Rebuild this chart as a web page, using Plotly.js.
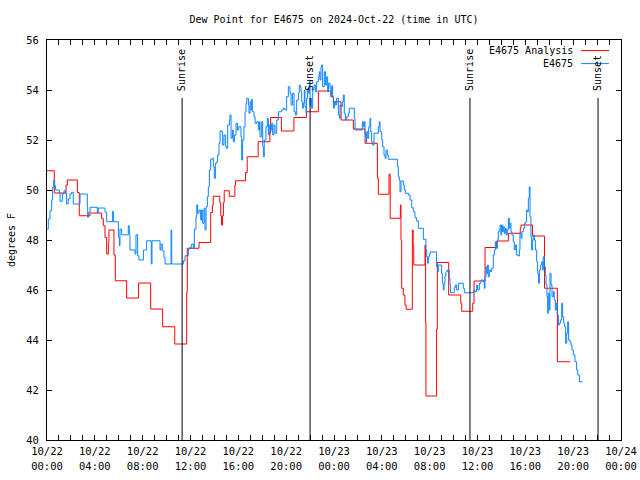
<!DOCTYPE html>
<html>
<head>
<meta charset="utf-8">
<script src="https://cdn.plot.ly/plotly-3.0.1.min.js"></script>
<style>html,body{margin:0;padding:0;background:#fff;}#chart{width:640px;height:480px;}</style>
</head>
<body>
<div id="chart"></div>
<script>
// Hours since 2024-10-22 00:00 UTC
const obsHours = [0.0,0.11,0.25,0.39,0.47,0.56,0.64,0.72,1.03,1.09,1.28,1.42,1.53,1.64,1.78,1.92,2.06,2.20,2.76,3.37,3.40,3.46,3.6,4.21,4.29,4.85,4.99,5.49,5.55,5.97,6.05,6.1,6.24,6.8,6.88,6.94,7.36,7.44,7.58,7.69,8.06,8.33,8.72,8.78,9.45,9.53,9.64,9.78,9.87,10.37,10.43,11.4,11.54,11.82,11.96,12.1,12.24,12.32,12.46,12.52,12.6,12.71,12.85,12.93,13.02,13.13,13.21,13.3,13.41,13.49,13.58,13.69,13.83,13.91,13.99,14.08,14.19,14.27,14.38,14.47,14.61,14.69,14.8,14.94,15.02,15.11,15.25,15.3,15.39,15.5,15.58,15.67,15.81,15.92,16.03,16.22,16.28,16.36,16.47,16.56,16.64,16.7,16.84,16.89,16.98,17.06,17.12,17.17,17.31,17.4,17.53,17.67,17.76,17.81,17.95,18.04,18.09,18.17,18.31,18.43,18.51,18.59,18.7,18.79,18.87,18.98,19.07,19.21,19.35,19.62,19.76,19.9,20.04,20.18,20.32,20.41,20.54,20.66,20.79,20.88,21.02,21.1,
21.16,21.24,21.3,21.38,21.44,21.52,21.57,21.66,21.71,21.8,21.88,21.94,22.0,22.08,22.13,22.22,22.33,22.44,22.55,22.69,22.77,22.83,22.91,22.97,23.05,23.19,23.3,23.39,23.47,23.55,23.67,23.75,23.81,23.89,23.95,24.03,24.11,24.22,24.36,24.45,24.5,24.61,24.7,24.78,24.86,24.95,25.06,25.2,25.28,25.7,25.76,26.37,26.45,26.54,26.59,26.68,26.73,26.82,26.9,27.01,27.07,27.15,27.23,27.35,27.71,27.79,27.85,27.99,28.07,28.18,28.27,28.35,28.46,28.54,29.3,29.38,29.46,29.52,29.6,29.8,29.88,29.97,30.22,30.36,30.5,30.63,30.77,30.91,31.05,
31.47,31.69,31.75,31.83,31.89,31.97,32.03,32.58,32.67,32.72,33.0,33.06,33.14,33.2,33.28,33.36,33.48,33.64,33.7,33.75,34.06,34.17,34.26,34.4,34.81,34.9,35.71,35.79,35.93,36.01,36.15,36.29,36.49,36.57,36.63,36.71,36.77,36.85,36.9,36.99,37.1,37.18,37.32,37.41,37.49,37.55,37.66,37.74,37.82,37.88,37.96,38.02,38.1,38.16,38.24,38.33,38.41,38.49,38.58,38.66,38.72,38.8,38.88,38.99,39.08,39.16,39.27,39.41,39.5,39.55,39.64,39.72,39.83,39.94,40.03,40.11,40.19,40.25,40.33,40.39,40.47,40.53,40.61,40.67,40.75,40.84,40.95,41.03,41.11,41.17,41.28,41.37,41.45,41.5,41.59,41.67,41.73,41.81,41.87,41.92,42.01,42.06,42.15,42.23,42.34,42.42,42.51,42.59,42.67,42.76,42.84,42.93,43.04,43.12,43.21,43.29,43.37,43.46,43.54,43.62,43.73,43.82,43.9,44.01,44.15,44.29,44.38,44.52,44.79];
const obsDew = [48.44,48.84,49.17,49.6,50.11,50.4,50.17,50.0,49.88,49.55,49.84,49.97,49.87,49.44,49.64,49.84,49.91,49.44,49.84,49.33,48.91,49.11,49.31,49.08,49.28,49.11,48.73,49.15,48.73,48.11,47.77,48.44,48.21,48.57,48.21,47.6,47.44,48.21,47.37,47.2,47.6,47.97,47.04,47.97,47.6,47.84,47.57,47.31,47.04,48.4,47.04,47.17,47.37,47.64,47.71,47.84,47.67,48.43,48.93,49.4,49.07,49.2,48.8,49.2,48.67,49.27,48.4,49.33,49.73,50.13,50.8,51.23,51.27,50.93,50.47,51.07,51.13,51.4,51.87,52.37,52.33,51.8,52.2,51.73,51.67,52.6,52.8,53.0,52.07,52.4,51.93,52.2,52.67,52.4,52.53,52.13,51.2,52.0,52.53,53.13,53.47,53.67,53.4,53.07,53.53,53.2,53.63,53.13,52.93,52.67,52.73,52.4,52.73,52.13,52.73,51.73,51.33,52.0,52.53,52.87,52.2,52.6,52.4,52.67,52.2,52.6,52.27,52.8,53.13,53.2,53.27,53.2,53.73,54.13,53.87,53.4,53.87,53.13,53.0,53.6,53.87,54.2,
54.13,53.93,53.53,53.27,53.47,54.0,53.33,53.07,53.67,54.07,53.87,54.4,53.4,53.67,53.27,54.0,54.2,53.93,54.33,54.53,54.73,54.4,54.93,55.0,54.13,54.73,54.2,54.53,53.93,54.27,54.07,53.73,54.17,53.73,53.27,53.53,53.4,53.67,53.0,52.87,53.4,53.33,53.53,53.8,53.07,52.8,52.93,53.07,53.27,52.87,52.4,52.73,52.53,52.73,52.2,51.91,52.33,52.07,52.53,52.87,52.33,51.93,51.8,52.27,52.53,52.73,52.33,52.0,51.73,51.4,51.27,51.6,51.4,51.23,50.93,50.53,50.4,49.93,50.36,50.2,50.0,49.87,49.8,49.6,49.29,49.13,48.89,48.76,48.47,
48.03,47.6,47.33,47.07,47.33,47.4,47.52,46.93,46.73,47.0,46.67,46.27,46.0,46.27,46.56,46.73,46.8,46.47,46.2,45.89,46.11,46.2,46.0,46.27,46.07,45.89,46.0,45.93,46.2,46.0,46.27,46.4,46.33,46.07,46.53,46.93,46.67,47.0,46.53,46.8,46.73,46.87,47.4,47.6,47.93,47.67,48.0,48.33,48.4,48.6,48.2,48.6,48.33,48.53,48.27,48.47,48.2,48.4,48.87,48.47,48.67,48.33,48.2,47.93,47.6,47.8,47.4,47.36,47.6,48.27,48.07,48.33,48.47,48.67,48.73,49.2,49.13,49.67,50.13,48.93,48.13,47.6,48.0,48.2,48.0,47.6,47.13,46.67,46.27,46.8,47.0,47.13,46.8,47.33,46.93,46.6,46.2,45.73,45.07,45.87,45.2,46.67,46.2,45.73,45.93,45.6,45.2,45.47,45.0,44.6,44.67,44.8,45.47,44.93,44.67,44.53,43.87,44.27,44.73,44.0,43.93,43.8,43.6,43.4,43.13,42.8,42.6,42.33,42.33];

const anaHours = [0.0,0.61,1.59,1.70,2.54,2.70,3.60,4.57,4.71,4.85,4.99,5.13,5.18,5.60,5.71,6.66,7.66,8.67,9.67,10.68,11.68,11.73,12.71,13.69,13.83,13.9,14.45,14.53,14.6,14.68,14.75,14.82,15.24,15.71,15.76,16.6,16.74,17.66,18.64,18.7,19.6,20.65,21.7,22.69,23.75,23.95,24.59,25.62,26.6,27.63,27.71,28.6,28.7,29.55,29.6,29.66,29.8,29.93,30.03,30.55,30.62,30.67,31.61,31.66,31.69,32.58,32.64,33.59,34.6,34.68,35.6,35.71,36.63,37.61,38.58,39.58,39.64,40.6,41.6,42.68,43.74];
const anaDew = [50.77,49.88,50.2,50.4,49.9,48.97,49.08,48.85,48.57,48.1,47.44,47.9,48.4,47.4,46.37,45.68,46.28,45.24,44.53,43.84,45.9,47.67,47.9,49.1,49.4,49.75,49.5,48.97,48.6,48.97,49.5,49.97,49.75,50.2,50.37,50.7,51.33,51.93,52.27,52.9,52.36,52.9,53.13,53.96,53.73,53.53,52.8,52.44,51.87,50.47,49.83,50.63,48.87,49.4,48.0,46.07,45.8,45.4,45.23,48.4,47.8,47.0,47.8,44.7,41.76,44.43,47.1,45.8,45.47,45.15,45.47,46.36,47.7,47.96,48.27,48.47,48.6,48.16,46.07,43.13,43.13];

const sunHours = [11.3, 22.0, 35.37, 46.08];
const sunLabels = ['Sunrise', 'Sunset', 'Sunrise', 'Sunset'];

const tickDays = ['10/22','10/22','10/22','10/22','10/22','10/22','10/23','10/23','10/23','10/23','10/23','10/23','10/24'];
const tickTimes = ['00:00','04:00','08:00','12:00','16:00','20:00','00:00','04:00','08:00','12:00','16:00','20:00','00:00'];

const seriesNames = ['E4675 Analysis', 'E4675'];
const seriesColors = ['#ff0000', '#0a84ff'];

const FONT = 'DejaVu Sans Mono, monospace';

// hourly ticks, labelled every 4 hours
const tickVals = [], tickText = [];
for (let h = 0; h <= 48; h++) {
  tickVals.push(h);
  if (h % 4 === 0) {
    const k = h / 4;
    tickText.push('<span style="font-size:10.5px">' + tickDays[k] + '</span><br><span style="font-size:10.5px">' + tickTimes[k] + '</span>');
  } else {
    tickText.push('');
  }
}

const traces = [
  {x: anaHours, y: anaDew, type: 'scatter', mode: 'lines', line: {color: seriesColors[0], width: 1, shape: 'hv'}, name: seriesNames[0], showlegend: false},
  {x: obsHours, y: obsDew, type: 'scatter', mode: 'lines', line: {color: seriesColors[1], width: 1, shape: 'hv'}, name: seriesNames[1], showlegend: false}
];

const shapes = [];
const annotations = [];
sunHours.forEach((h, i) => {
  shapes.push({type: 'line', xref: 'x', yref: 'paper', x0: h, x1: h, y0: 0, y1: 0.855, line: {color: '#000', width: 1}});
  annotations.push({x: h, y: 0.8675, xref: 'x', yref: 'paper', text: sunLabels[i], textangle: -90, showarrow: false, xanchor: 'center', yanchor: 'bottom', font: {family: FONT, size: 10, color: '#000'}});
});
// legend (text left of sample line, as in the reference)
const legY = [0.9735, 0.941];
seriesNames.forEach((n, i) => {
  annotations.push({x: 0.9199, y: legY[i], xref: 'paper', yref: 'paper', text: n, showarrow: false, xanchor: 'right', yanchor: 'middle', font: {family: FONT, size: 10, color: '#000'}});
  shapes.push({type: 'line', xref: 'paper', yref: 'paper', x0: 0.9303, x1: 0.9791, y0: legY[i], y1: legY[i], line: {color: seriesColors[i], width: 1}});
});

const axisCommon = {showline: true, linecolor: '#000', linewidth: 1, mirror: 'allticks', ticks: 'inside', ticklen: 5, tickcolor: '#000', showgrid: false, zeroline: false};

const layout = {
  width: 640, height: 480,
  margin: {l: 47, r: 19, t: 40, b: 40},
  paper_bgcolor: '#fff', plot_bgcolor: '#fff',
  title: {text: 'Dew Point for E4675 on 2024-Oct-22 (time in UTC)', font: {family: FONT, size: 10, color: '#000'}, x: 0.5, xref: 'paper', xanchor: 'center', y: 1 - 19/480, yanchor: 'middle', yref: 'container'},
  xaxis: Object.assign({}, axisCommon, {range: [0, 48], tickmode: 'array', tickvals: tickVals, ticktext: tickText, tickfont: {family: FONT, size: 11.5, color: '#000'}, ticklabelstandoff: 0}),
  yaxis: Object.assign({}, axisCommon, {range: [40, 56], tickmode: 'linear', tick0: 40, dtick: 2, tickfont: {family: FONT, size: 10.5, color: '#000'}, ticklabelstandoff: 5, title: {text: 'degrees F', font: {family: FONT, size: 10, color: '#000'}, standoff: 8}}),
  shapes: shapes,
  annotations: annotations,
  showlegend: false
};

Plotly.newPlot('chart', traces, layout, {displayModeBar: false, staticPlot: true});
</script>
</body>
</html>
